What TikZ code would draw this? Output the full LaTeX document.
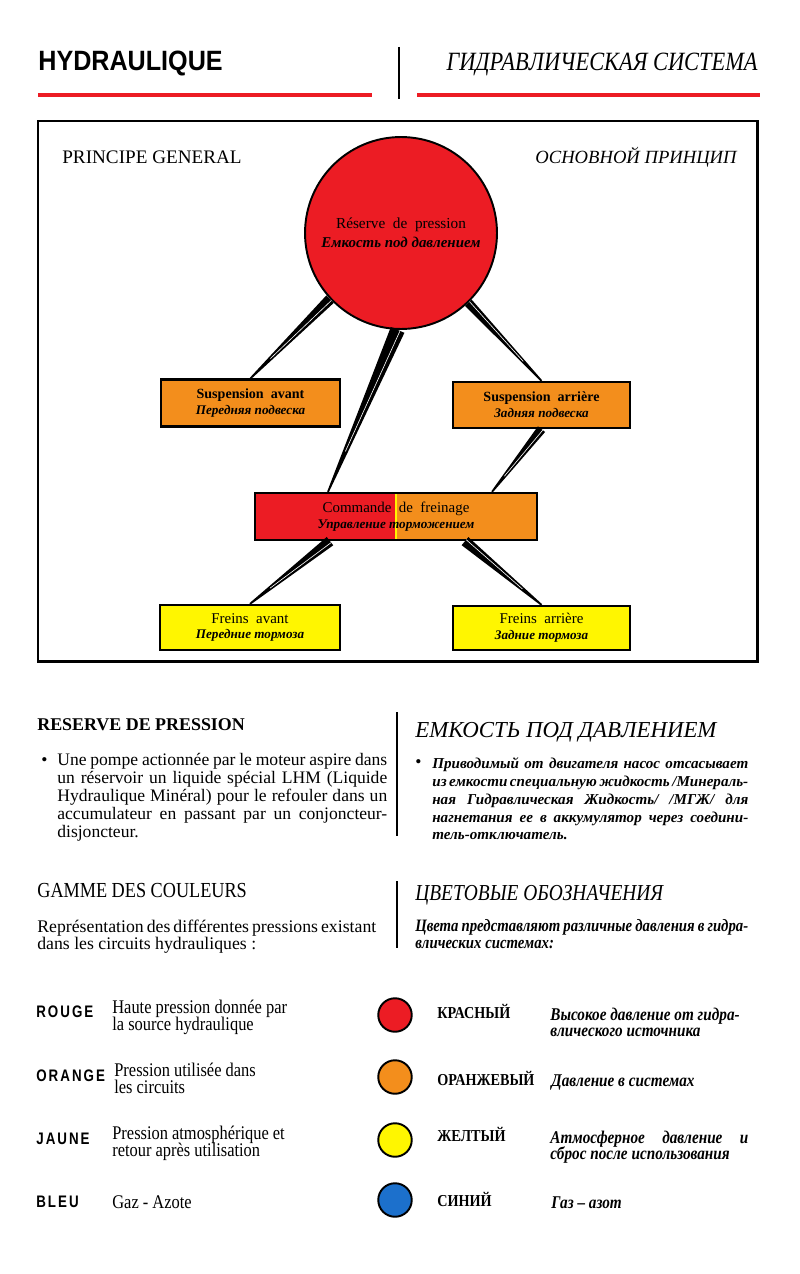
\documentclass[tikz,border=0pt]{standalone}
\usepackage{fontspec}
\setmainfont{Liberation Serif}
\newfontfamily\headsans[FakeStretch=0.9]{Liberation Sans}
\newfontfamily\tagsans[FakeStretch=0.8,LetterSpace=12]{Liberation Sans}
\newfontfamily\narrowserif[FakeStretch=0.85]{Liberation Serif}
\usetikzlibrary{calc}
\definecolor{HRed}{RGB}{236,28,36}
\definecolor{HOrange}{RGB}{243,142,28}
\definecolor{HYellow}{RGB}{255,246,0}
\definecolor{HBlue}{RGB}{28,112,204}
\newcommand{\fsz}[2]{\fontsize{#1}{#2}\selectfont\lineskiplimit=-100pt\relax}
\newcommand{\jl}[2]{\makebox[#1][s]{#2}}
% tapered pipe between two points, wide at the first one
\newcommand{\wedgelink}[3]{%
  \fill ($(#1)!#3!90:(#2)$) -- ($(#2)!0.5pt!-90:(#1)$)
    -- ($(#2)!0.5pt!90:(#1)$) -- ($(#1)!#3!-90:(#2)$) -- cycle;
  \draw[white,line width=0.35pt] ($(#1)!0.35*#3!90:(#2)$) -- ($(#1)!0.75!(#2)$);}

\begin{document}
\begin{tikzpicture}[x=0.02cm,y=-0.02cm,
  txt/.style={inner sep=0pt,anchor=base west},
  para/.style={inner sep=0pt,anchor=north west,align=left},
  rule/.style={HRed,line width=2.3pt},
  box/.style={draw,line width=1.3pt,fill=HOrange,minimum width=3.58cm,
              minimum height=0.94cm,align=center,inner sep=1pt,font=\fsz{8.5}{9}},
  ybox/.style={box,fill=HYellow},
  dot/.style={circle,draw,line width=1.1pt,minimum size=0.67cm,inner sep=0pt},
]
\useasboundingbox (0,0) rectangle (800,1274);

% header
\node[txt,font=\headsans\bfseries\fsz{15.9}{18}] (ttlfr) at (38,71) {HYDRAULIQUE};
\node[txt,anchor=base east,font=\narrowserif\itshape\fsz{15}{18}] (ttlru) at (758,71) {ГИДРАВЛИЧЕСКАЯ СИСТЕМА};
\draw[rule] (38,95) -- (372,95);
\draw[rule] (417,95) -- (760,95);
\draw[line width=0.8pt] (399,47) -- (399,99);

% principle diagram
\draw[line width=1.7pt] (38,121) rectangle (757,661);
\node[txt,font=\fsz{10.9}{12}] (prfr) at (62,163) {PRINCIPE GENERAL};
\node[txt,anchor=base east,font=\itshape\fsz{10.6}{12}] (prru) at (737,163) {ОСНОВНОЙ ПРИНЦИП};

\node[circle,draw,line width=1.1pt,fill=HRed,minimum size=3.84cm,inner sep=0pt,
      align=center,font=\fsz{8.7}{11}] (res) at (401,233)
  {Réserve\ \ de\ \ pression\\{\bfseries\itshape\fsz{8.5}{11}Емкость под давлением}};
\node[box] (susav) at (250.5,403) {\bfseries\fsz{8}{9}Suspension\ \ avant\\{\fsz{7.5}{9}\bfseries\itshape Передняя подвеска}};
\node[box,minimum width=3.54cm,minimum height=0.92cm] (susar) at (541.5,405)
  {\bfseries\fsz{8}{9}Suspension\ \ arrière\\{\fsz{7.5}{9}\bfseries\itshape Задняя подвеска}};
\node[box,minimum width=5.64cm,
      path picture={\fill[HRed] (path picture bounding box.south west) rectangle (path picture bounding box.north);
                    \draw[HYellow,line width=0.6pt] (path picture bounding box.south) -- (path picture bounding box.north);}]
  (cmd) at (396,516.5) {Commande\ \ de\ \ freinage\\{\fsz{7.5}{9}\bfseries\itshape Управление торможением}};
\node[ybox,minimum width=3.6cm,minimum height=0.9cm] (frav) at (250,627.5)
  {Freins\ \ avant\\{\fsz{7.5}{9}\bfseries\itshape Передние тормоза}};
\node[ybox,minimum width=3.54cm,minimum height=0.88cm] (frar) at (541.5,628)
  {Freins\ \ arrière\\{\fsz{7.5}{9}\bfseries\itshape Задние тормоза}};

\coordinate (cmdA) at ($(cmd.north)+(-68,0)$);
\coordinate (cmdB) at ($(cmd.north)+(96,0)$);
\coordinate (cmdC) at ($(cmd.south)+(-66,0)$);
\coordinate (cmdD) at ($(cmd.south)+(69,0)$);
\wedgelink{res.223}{susav.north}{3pt}
\wedgelink{res.268}{cmdA}{4.2pt}
\wedgelink{res.314}{susar.north}{2.6pt}
\wedgelink{susar.south}{cmdB}{2.6pt}
\wedgelink{cmdC}{frav.north}{3pt}
\wedgelink{cmdD}{frar.north}{3pt}

% reserve de pression
\node[txt,font=\bfseries\fsz{10.2}{12}] (resfr) at (37,730) {RESERVE DE PRESSION};
\node[txt,font=\itshape\fsz{13}{14}] (resru) at (415,737) {ЕМКОСТЬ ПОД ДАВЛЕНИЕМ};
\draw[line width=0.8pt] (397,712) -- (397,836);
\node[txt,font=\fsz{10}{11}] (bulfr) at (41,765) {\textbullet};
\node[para,font=\fsz{10}{10.35}] (txtfr) at (57,752.5)
  {\jl{6.6cm}{Une pompe actionnée par le moteur aspire dans}\\
   \jl{6.6cm}{un réservoir un liquide spécial LHM (Liquide}\\
   \jl{6.6cm}{Hydraulique Minéral) pour le refouler dans un}\\
   \jl{6.6cm}{accumulateur en passant par un conjoncteur-}\\
   disjoncteur.};
\node[txt,font=\fsz{10}{11}] (bulru) at (415,767) {\textbullet};
\node[para,font=\bfseries\itshape\fsz{8.6}{10.2}] (txtru) at (432,757)
  {\jl{6.32cm}{Приводимый от двигателя насос отсасывает}\\
   \jl{6.32cm}{из емкости специальную жидкость /Минераль-}\\
   \jl{6.32cm}{ная Гидравлическая Жидкость/ /МГЖ/ для}\\
   \jl{6.32cm}{нагнетания ее в аккумулятор через соедини-}\\
   тель-отключатель.};

% colour range
\node[txt,font=\narrowserif\fsz{12.2}{14}] (gamfr) at (37,897) {GAMME DES COULEURS};
\node[txt,font=\narrowserif\itshape\fsz{13}{14}] (gamru) at (415,900) {ЦВЕТОВЫЕ ОБОЗНАЧЕНИЯ};
\draw[line width=0.8pt] (397,881) -- (397,948);
\node[para,font=\fsz{10.1}{9.6}] (repfr) at (37,919.5)
  {\jl{6.78cm}{Représentation des différentes pressions existant}\\
   dans les circuits hydrauliques :};
\node[para,font=\narrowserif\bfseries\itshape\fsz{9.9}{9.6}] (repru) at (415,919.5)
  {\jl{6.66cm}{Цвета представляют различные давления в гидра-}\\
   влических системах:};

% legend
\node[txt,font=\tagsans\bfseries\fsz{9.5}{11}] (tagr) at (36,1017) {ROUGE};
\node[txt,font=\tagsans\bfseries\fsz{9.5}{11}] (tago) at (36,1081) {ORANGE};
\node[txt,font=\tagsans\bfseries\fsz{9.5}{11}] (tagj) at (36,1144) {JAUNE};
\node[txt,font=\tagsans\bfseries\fsz{9.5}{11}] (tagb) at (36,1207) {BLEU};

\node[para,font=\narrowserif\fsz{11}{9.8}] (dscr) at (112,999.5) {Haute pression donnée par\\la source hydraulique};
\node[para,font=\narrowserif\fsz{11}{9.8}] (dsco) at (114,1062.5) {Pression utilisée dans\\les circuits};
\node[para,font=\narrowserif\fsz{11}{9.8}] (dscj) at (112,1125.5) {Pression atmosphérique et\\retour après utilisation};
\node[txt,font=\narrowserif\fsz{11}{12}] (dscb) at (112,1208) {Gaz - Azote};

\node[dot,fill=HRed] (cr) at (395,1015) {};
\node[dot,fill=HOrange] (co) at (395,1077) {};
\node[dot,fill=HYellow] (cj) at (395,1140) {};
\node[dot,fill=HBlue] (cb) at (395,1200) {};

\node[txt,font=\narrowserif\bfseries\fsz{9.5}{11}] (namr) at (437,1018) {КРАСНЫЙ};
\node[txt,font=\narrowserif\bfseries\fsz{9.5}{11}] (namo) at (437,1085) {ОРАНЖЕВЫЙ};
\node[txt,font=\narrowserif\bfseries\fsz{9.5}{11}] (namj) at (437,1141) {ЖЕЛТЫЙ};
\node[txt,font=\narrowserif\bfseries\fsz{9.5}{11}] (namb) at (437,1206) {СИНИЙ};

\node[para,font=\narrowserif\bfseries\itshape\fsz{10.2}{9.1}] (rusr) at (550,1008) {Высокое давление от гидра-\\влического источника};
\node[txt,font=\narrowserif\bfseries\itshape\fsz{10.2}{11}] (ruso) at (551,1086) {Давление в системах};
\node[para,font=\narrowserif\bfseries\itshape\fsz{10.2}{9.1}] (rusj) at (550,1131) {\jl{3.96cm}{Атмосферное давление и}\\сброс после использования};
\node[txt,font=\narrowserif\bfseries\itshape\fsz{10.2}{11}] (rusb) at (551,1208) {Газ – азот};
\end{tikzpicture}
\end{document}
